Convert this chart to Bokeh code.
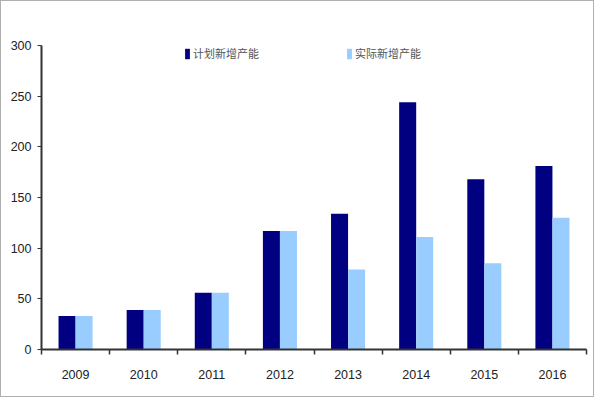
from bokeh.plotting import figure
from bokeh.models import (Range1d, FixedTicker, ColumnDataSource, Legend, LegendItem)
from bokeh.transform import dodge
from bokeh.embed import file_html
from bokeh.resources import INLINE

years = ["2009", "2010", "2011", "2012", "2013", "2014", "2015", "2016"]
planned = [33, 39, 56, 117, 134, 244, 168, 181]
actual = [33, 39, 56, 117, 79, 111, 85, 130]
series_names = ["计划新增产能", "实际新增产能"]
y_ticks = [0, 50, 100, 150, 200, 250, 300]

DARK = "#000080"
LIGHT = "#99CCFF"
NUM_FONT = "Liberation Sans"

n = len(years)
centers = [i + 0.5 for i in range(n)]
edges = list(range(n + 1))

src = ColumnDataSource(dict(x=centers, year=years, planned=planned, actual=actual))

p = figure(width=594, height=397, x_range=Range1d(0, n),
           y_range=Range1d(0, 300), output_backend="svg",
           toolbar_location=None,
           min_border_left=40, min_border_right=9, min_border_top=44,
           min_border_bottom=49)
p.styles = {"border": "1px solid #b0b0b0"}
p.outline_line_color = None
p.xgrid.visible = False
p.ygrid.visible = False
p.background_fill_color = "white"
p.border_fill_color = "white"

r1 = p.vbar(x=dodge("x", -0.125), top="planned", width=0.25,
            source=src, fill_color=DARK, line_color=None)
r2 = p.vbar(x=dodge("x", 0.125), top="actual", width=0.25,
            source=src, fill_color=LIGHT, line_color=None)

# y axis
ya = p.yaxis[0]
ya.ticker = FixedTicker(ticks=y_ticks)
ya.major_tick_out = 4
ya.major_tick_in = 0
ya.minor_tick_line_color = None
ya.axis_line_color = "#333333"
ya.axis_line_width = 2
ya.major_tick_line_color = "#333333"
ya.major_label_text_font = NUM_FONT
ya.major_label_text_font_size = "12.5px"
ya.major_label_text_color = "#222222"
ya.major_label_standoff = 6

# x axis: labels at category centres, tick marks at category boundaries
xa = p.xaxis[0]
xa.ticker = FixedTicker(ticks=centers, minor_ticks=edges)
xa.major_label_overrides = {c: y for c, y in zip(centers, years)}
xa.major_tick_line_color = None
xa.minor_tick_line_color = "#333333"
xa.minor_tick_out = 5
xa.minor_tick_in = 0
xa.minor_tick_line_width = 1.5
xa.axis_line_color = "#333333"
xa.axis_line_width = 2
xa.major_label_text_font = NUM_FONT
xa.major_label_text_font_size = "12.5px"
xa.major_label_text_color = "#222222"
xa.major_label_standoff = 14

legend = Legend(items=[LegendItem(label=series_names[0], renderers=[r1]),
                       LegendItem(label=series_names[1], renderers=[r2])],
                orientation="horizontal", location=(143, 288),
                spacing=87, padding=0, margin=0,
                glyph_width=6, glyph_height=13, label_standoff=3,
                label_text_font="Noto Sans CJK SC", label_text_font_size="11px",
                label_text_color="#555555", label_height=13,
                background_fill_alpha=0, border_line_color=None)
p.add_layout(legend, "center")

open("out.html", "w").write(file_html(p, INLINE))
